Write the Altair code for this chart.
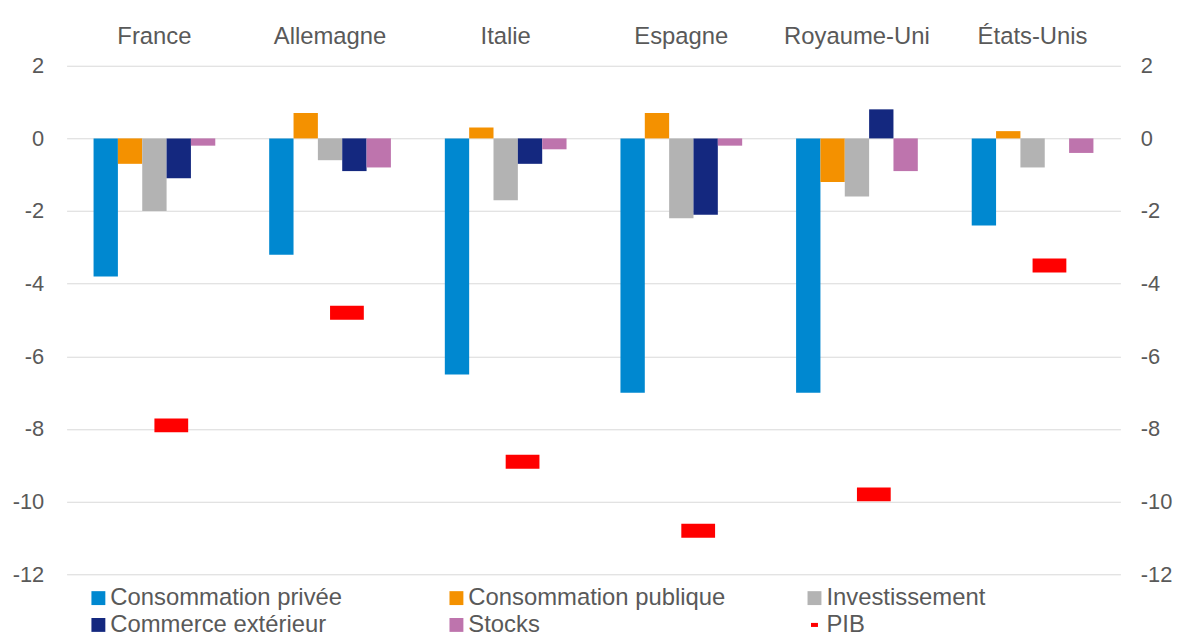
import altair as alt
import pandas as pd

countries = ["France", "Allemagne", "Italie", "Espagne", "Royaume-Uni", "États-Unis"]
series = ["Consommation privée", "Consommation publique", "Investissement",
          "Commerce extérieur", "Stocks"]
cons_privee = [-3.8, -3.2, -6.5, -7.0, -7.0, -2.4]
cons_publique = [-0.7, 0.7, 0.3, 0.7, -1.2, 0.2]
investissement = [-2.0, -0.6, -1.7, -2.2, -1.6, -0.8]
commerce_ext = [-1.1, -0.9, -0.7, -2.1, 0.8, 0.0]
stocks = [-0.2, -0.8, -0.3, -0.2, -0.9, -0.4]
pib = [-7.9, -4.8, -8.9, -10.8, -9.8, -3.5]
y_ticks = [-12, -10, -8, -6, -4, -2, 0, 2]

bar_colors = ["#0088D0", "#F49100", "#B3B3B3", "#14287F", "#BE74AD"]
pib_color = "#FF0000"

rows = []
for s, vals in zip(series, [cons_privee, cons_publique, investissement, commerce_ext, stocks]):
    for c, v in zip(countries, vals):
        rows.append({"Pays": c, "Série": s, "Valeur": v})
bars_df = pd.DataFrame(rows)
pib_df = pd.DataFrame({"Pays": countries, "Série": ["PIB"] * len(countries), "Valeur": pib})
all_df = pd.concat([bars_df, pib_df], ignore_index=True)

legend_order = series + ["PIB"]
color_scale = alt.Scale(domain=legend_order, range=bar_colors + [pib_color])
shape_scale = alt.Scale(domain=legend_order,
                        range=["square"] * 5 + ["M-0.5,-0.29H0.5V0.29H-0.5Z"])
y_scale = alt.Scale(domain=[-12, 2], nice=False, zero=False)

legend_def = alt.Legend(title=None, orient="none", legendX=20, legendY=524,
                        direction="horizontal",
                        columns=3, gridAlign="all", columnPadding=77.5,
                        rowPadding=3, symbolSize=196, symbolStrokeWidth=0,
                        labelFontSize=24, labelColor="#595959",
                        labelFont="Arial", labelLimit=600, labelOffset=0,
                        padding=0, symbolOpacity=1)

x_enc = alt.X("Pays:N", sort=countries, title=None,
              scale=alt.Scale(paddingInner=0.307, paddingOuter=0.1535),
              axis=alt.Axis(orient="top", ticks=False, domain=False, labelAngle=0,
                            labelFontSize=24, labelColor="#595959", labelPadding=17,
                            labelFont="Arial"))

color_enc = alt.Color("Série:N", scale=color_scale, sort=legend_order, legend=legend_def)

bars = alt.Chart(bars_df).mark_bar().encode(
    x=x_enc,
    xOffset=alt.XOffset("Série:N", sort=series,
                        scale=alt.Scale(domain=series, paddingInner=0, paddingOuter=0)),
    y=alt.Y("Valeur:Q", scale=y_scale, title=None,
            axis=alt.Axis(orient="left", values=y_ticks, grid=True, gridColor="#D9D9D9",
                          gridWidth=1, domain=False, ticks=False, labelPadding=23,
                          labelFontSize=22, labelColor="#595959", labelFont="Arial",
                          labelExpr="'' + datum.value")),
    color=color_enc,
)

pib_marks = alt.Chart(pib_df).mark_tick(size=34, thickness=14, xOffset=17, opacity=1).encode(
    x=x_enc,
    y=alt.Y("Valeur:Q", scale=y_scale, title=None,
            axis=alt.Axis(orient="right", values=y_ticks, grid=False, domain=False,
                          ticks=False, labelPadding=20, labelFontSize=22,
                          labelColor="#595959", labelFont="Arial",
                          labelExpr="'' + datum.value")),
    color=color_enc,
)

legend_layer = alt.Chart(all_df).transform_filter("false").mark_point(
    filled=True, opacity=1
).encode(
    x=x_enc,
    y=alt.Y("Valeur:Q", scale=y_scale, axis=None),
    color=color_enc,
    shape=alt.Shape("Série:N", scale=shape_scale, sort=legend_order, legend=legend_def),
)

chart = alt.layer(bars, pib_marks, legend_layer).resolve_scale(
    y="shared"
).resolve_axis(
    y="independent"
).properties(
    width=1061, height=512,
    autosize=alt.AutoSizeParams(type="none"),
    padding={"left": 59, "top": 56, "right": 58, "bottom": 61},
    background="white",
).configure_view(stroke=None)

chart.save("out.html", embed_options={"renderer": "svg", "actions": False})
